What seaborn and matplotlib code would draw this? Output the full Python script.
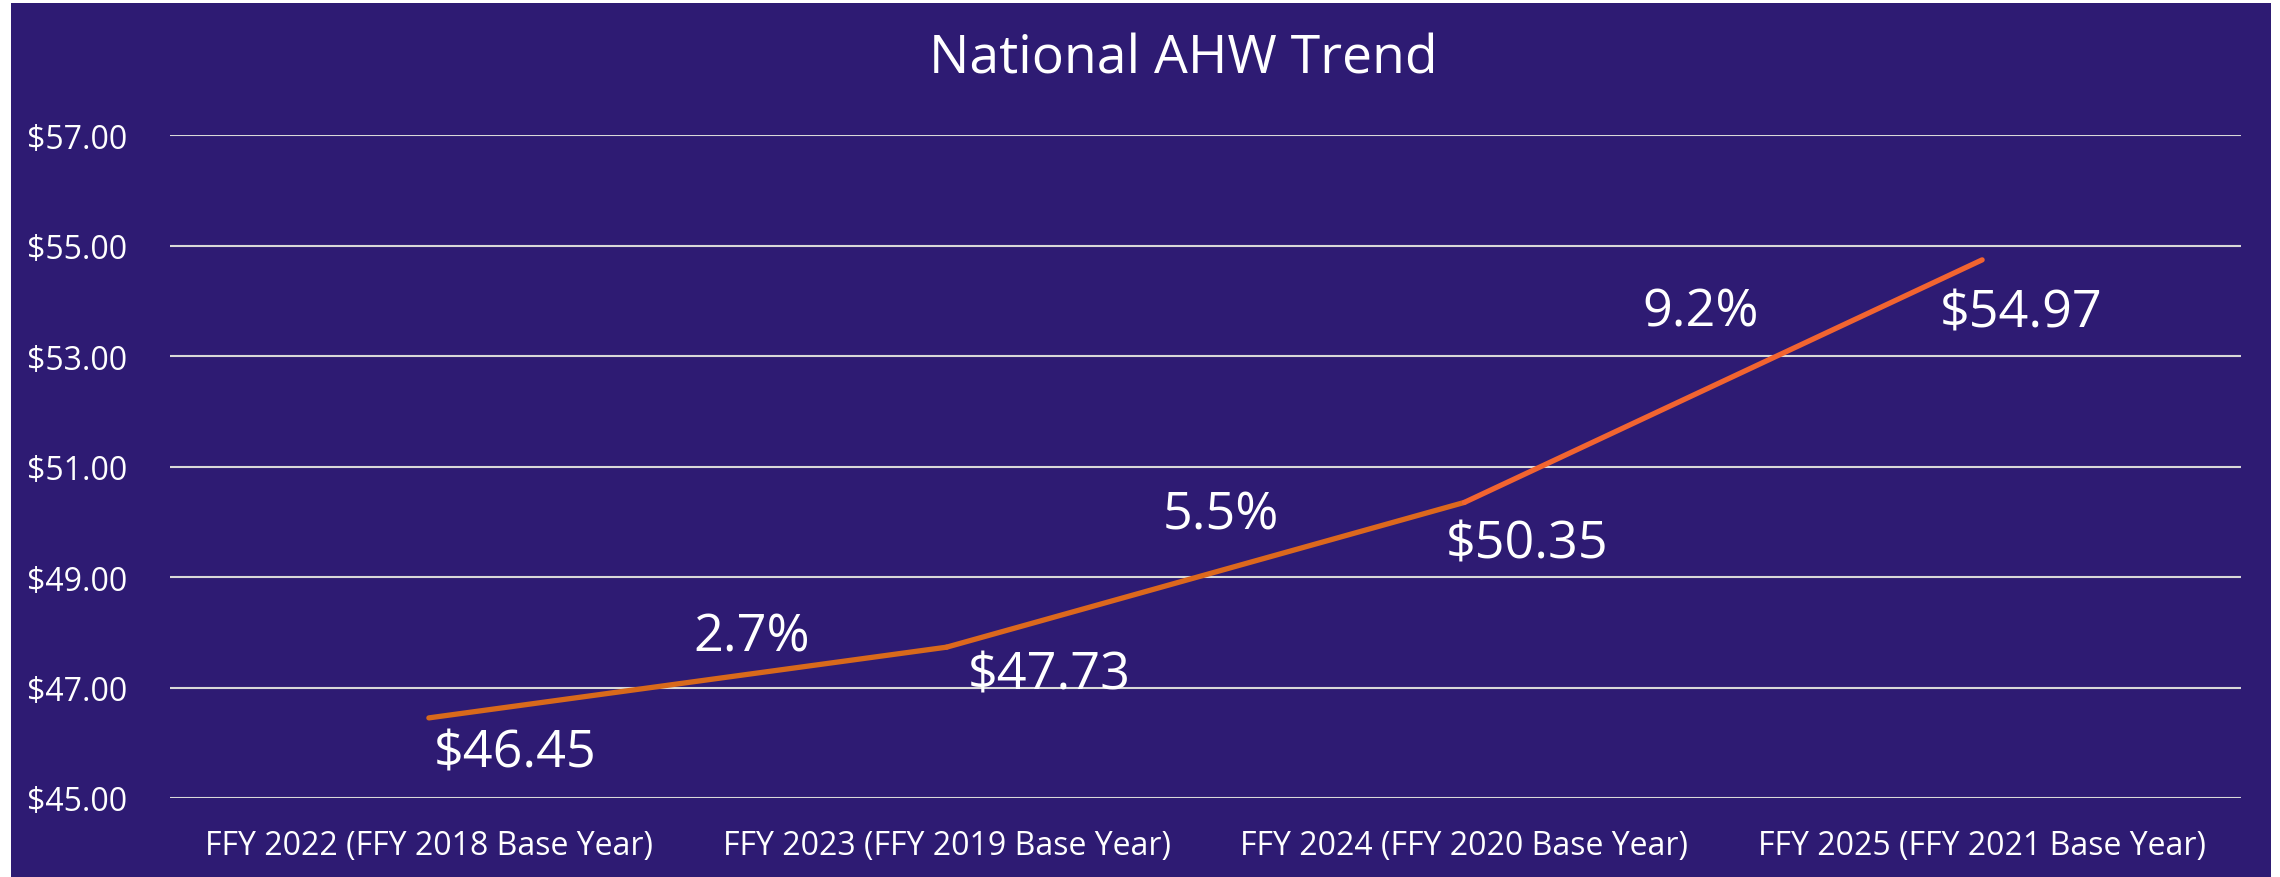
import numpy as np
import pandas as pd
import matplotlib
matplotlib.use('Agg')
import matplotlib.pyplot as plt
from matplotlib.patches import Rectangle
import seaborn as sns

# data
categories = ['FFY 2022 (FFY 2018 Base Year)', 'FFY 2023 (FFY 2019 Base Year)',
              'FFY 2024 (FFY 2020 Base Year)', 'FFY 2025 (FFY 2021 Base Year)']
ahw = [46.45, 47.73, 50.35, 54.74]          # plotted position of the line
ahw_labels = ['$46.45', '$47.73', '$50.35', '$54.97']
pct_labels = ['2.7%', '5.5%', '9.2%']
y_ticks = [45, 47, 49, 51, 53, 55, 57]

bg = '#2E1B73'
seg_colors = ['#D8691B', '#DC681D', '#F26430']

sns.set_theme(style='white')
plt.rcParams['font.family'] = ['Open Sans', 'DejaVu Sans']

fig = plt.figure(figsize=(22.8, 8.78), dpi=100, facecolor='white')
fig.patches.append(Rectangle((11 / 2280, 0), 2260 / 2280, 874 / 878,
                             transform=fig.transFigure, facecolor=bg,
                             edgecolor='none', zorder=-5))
ax = fig.add_axes([170 / 2280, 1 - 799 / 878, 2071 / 2280, 663 / 878])
ax.set_zorder(2)
ax.patch.set_alpha(0)

# one little frame per segment so each can take its own shade of orange
rows = []
for i in range(len(ahw) - 1):
    rows.append({'x': i, 'y': ahw[i], 'seg': i})
    rows.append({'x': i + 1, 'y': ahw[i + 1], 'seg': i})
seg_df = pd.DataFrame(rows)

sns.lineplot(data=seg_df, x='x', y='y', hue='seg', palette=seg_colors,
             linewidth=3.8, legend=False, ax=ax, solid_capstyle='round',
             zorder=3)

ax.set_xlim(-0.5, len(categories) - 0.5)
ax.set_ylim(y_ticks[0], y_ticks[-1])
ax.set_xticks(range(len(categories)))
ax.set_xticklabels(categories)
ax.set_yticks(y_ticks)
ax.set_yticklabels(['${:.2f}'.format(v) for v in y_ticks])
ax.set_xlabel('')
ax.set_ylabel('')
for s in ax.spines.values():
    s.set_visible(False)
ax.grid(axis='y', color='#D9D9D9', linewidth=1.5)
ax.grid(axis='x', visible=False)
ax.set_axisbelow(True)
ax.tick_params(axis='y', length=0, pad=31, labelsize=23, labelcolor='white')
ax.tick_params(axis='x', length=0, pad=22, labelsize=23, labelcolor='white')

# value labels, below-right of each point
val_off = [(62, -25), (74, -20), (45, -30), (28, -38)]
for i, lab in enumerate(ahw_labels):
    ax.annotate(lab, (i, ahw[i]), xytext=val_off[i], textcoords='offset points',
                ha='center', va='center', color='white', fontsize=37.5)

# growth labels, above each segment
pct_off = [(46, 33), (11, 43), (-16, 50)]
for i, lab in enumerate(pct_labels):
    mx = i + 0.5
    my = (ahw[i] + ahw[i + 1]) / 2
    ax.annotate(lab, (mx, my), xytext=pct_off[i], textcoords='offset points',
                ha='center', va='center', color='white', fontsize=37.5)

fig.text(1183 / 2280, 1 - 60 / 878, 'National AHW Trend', ha='center',
         va='center', color='white', fontsize=38.5)

fig.savefig('out.png', dpi=100, facecolor=fig.get_facecolor())
